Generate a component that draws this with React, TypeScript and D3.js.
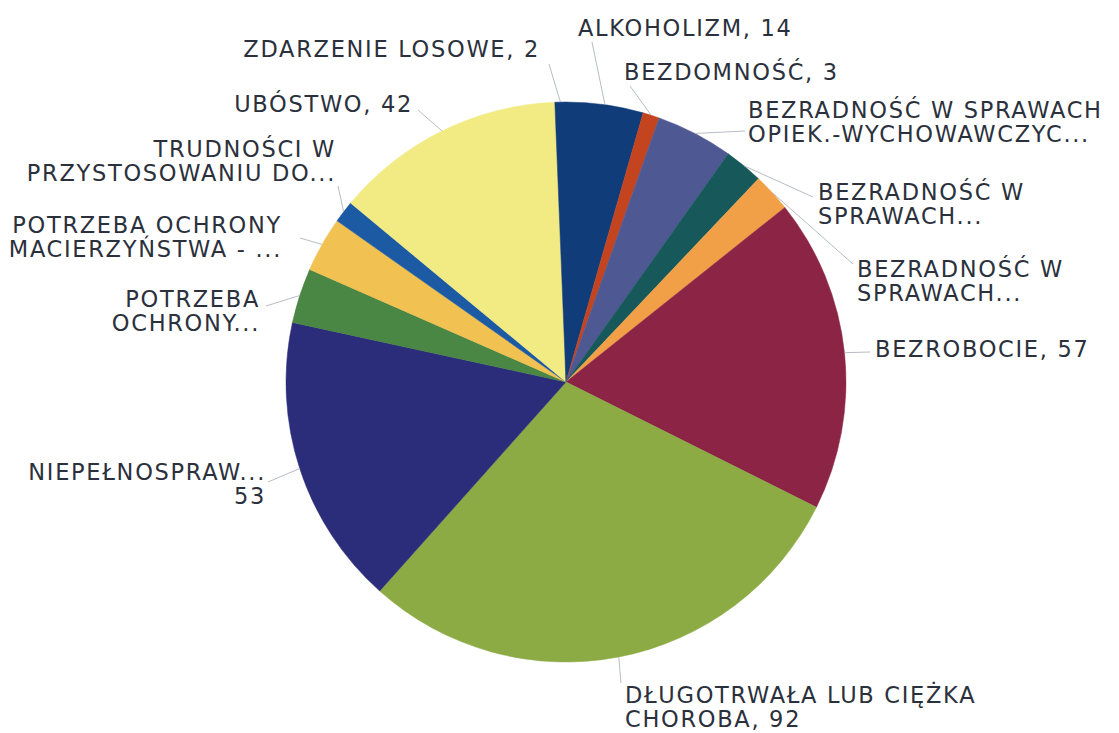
import React from "react";
import * as d3 from "d3";

const categories: string[][] = [
  ["ALKOHOLIZM, 14"],
  ["BEZDOMNOŚĆ, 3"],
  ["BEZRADNOŚĆ W SPRAWACH", "OPIEK.-WYCHOWAWCZYC..."],
  ["BEZRADNOŚĆ W", "SPRAWACH..."],
  ["BEZRADNOŚĆ W", "SPRAWACH..."],
  ["BEZROBOCIE, 57"],
  ["DŁUGOTRWAŁA LUB CIĘŻKA", "CHOROBA, 92"],
  ["NIEPEŁNOSPRAW...", "53"],
  ["POTRZEBA", "OCHRONY..."],
  ["POTRZEBA OCHRONY", "MACIERZYŃSTWA - ..."],
  ["TRUDNOŚCI W", "PRZYSTOSOWANIU DO..."],
  ["UBÓSTWO, 42"],
  ["ZDARZENIE LOSOWE, 2"],
];

const values: number[] = [14, 3, 14, 7, 7, 57, 92, 53, 10, 10, 4, 42, 2];

const colors: string[] = [
  "#103c7a", "#c3441f", "#4e5892", "#17595b", "#f1a048", "#8b2445",
  "#8dab45", "#2b2c7a", "#4a8644", "#f1c151", "#1c5ba4", "#f2ea82", "#103c7a",
];

// label layout: anchor x, first baseline y, text-anchor, leader end point
const labelLayout = [
  { x: 578, y: 36, a: "start", lx: 592, ly: 42 },
  { x: 624, y: 80, a: "start", lx: 630, ly: 86 },
  { x: 748, y: 118, a: "start", lx: 745, ly: 131 },
  { x: 818, y: 200, a: "start", lx: 813, ly: 197 },
  { x: 857, y: 277, a: "start", lx: 853, ly: 264 },
  { x: 875, y: 357, a: "start", lx: 870, ly: 352 },
  { x: 625, y: 703, a: "start", lx: 621, ly: 683 },
  { x: 266, y: 480, a: "end", lx: 268, ly: 482 },
  { x: 260, y: 307, a: "end", lx: 266, ly: 306 },
  { x: 282, y: 233, a: "end", lx: 300, ly: 238 },
  { x: 336, y: 157, a: "end", lx: 338, ly: 186 },
  { x: 413, y: 112, a: "end", lx: 418, ly: 110 },
  { x: 540, y: 57, a: "end", lx: 549, ly: 64 },
];

const W = 1119;
const H = 733;
const cx = 566;
const cy = 382;
const R = 280;

export default function App() {
  const pie = d3.pie<number>().sort(null).value((d) => d).startAngle(0).endAngle(2 * Math.PI);
  const arcs = pie(values);
  const arcGen = d3.arc<d3.PieArcDatum<number>>().innerRadius(0).outerRadius(R);
  const edgeArc = d3.arc<d3.PieArcDatum<number>>().innerRadius(R).outerRadius(R);

  return (
    <svg width={W} height={H} style={{ position: "absolute", left: 0, top: 0, background: "#fff" }}>
      <rect x={0} y={0} width={W} height={H} fill="#ffffff" />
      <g transform={`translate(${cx},${cy})`}>
        {arcs.map((a, i) => (
          <path key={i} d={arcGen(a) || ""} fill={colors[i]} stroke={colors[i]} strokeWidth={0.5} />
        ))}
      </g>
      {arcs.map((a, i) => {
        const [px, py] = edgeArc.centroid(a);
        const L = labelLayout[i];
        return (
          <line
            key={"l" + i}
            x1={cx + px}
            y1={cy + py}
            x2={L.lx}
            y2={L.ly}
            stroke="#b8bcc4"
            strokeWidth={1}
          />
        );
      })}
      {categories.map((lines, i) => {
        const L = labelLayout[i];
        return (
          <text
            key={"t" + i}
            x={L.x}
            y={L.y}
            textAnchor={L.a as any}
            fontFamily="DejaVu Sans"
            fontSize={22.5}
            letterSpacing={1.7}
            fill="#2b313c"
          >
            {lines.map((s, j) => (
              <tspan key={j} x={L.x} y={L.y + j * 24}>
                {s}
              </tspan>
            ))}
          </text>
        );
      })}
    </svg>
  );
}
